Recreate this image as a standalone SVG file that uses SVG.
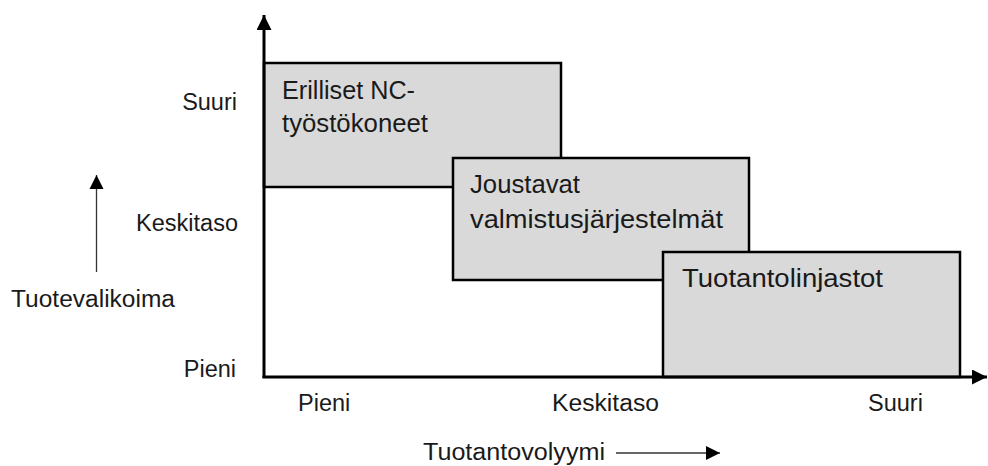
<svg xmlns="http://www.w3.org/2000/svg" width="988" height="466" viewBox="0 0 988 466">
<style>
.box{fill:#d9d9d9;stroke:#000;stroke-width:2.5}
.bt{font-family:"Liberation Sans",Arial,sans-serif;font-size:26px;fill:#1a1a1a}
.at{font-family:"Liberation Sans",Arial,sans-serif;font-size:23.5px;fill:#1a1a1a}
.axis{stroke:#000;stroke-width:3;fill:none}
.thin{stroke:#333;stroke-width:1.3;fill:none}
</style>
<defs>
<marker id="ah" viewBox="0 0 10 10" refX="10" refY="5" markerWidth="5" markerHeight="5" markerUnits="strokeWidth" orient="auto">
<path d="M0,0 L10,5 L0,10 z" fill="#000"/>
</marker>
<marker id="ahs" viewBox="0 0 10 10" refX="10" refY="5" markerWidth="11" markerHeight="11" markerUnits="strokeWidth" orient="auto">
<path d="M0,0 L10,5 L0,10 z" fill="#000"/>
</marker>
</defs>
<g id="node-nc">
<rect class="box" x="264" y="63" width="297" height="124"/>
<text class="bt" x="282" y="99" textLength="133" lengthAdjust="spacingAndGlyphs">Erilliset NC-</text>
<text class="bt" x="282" y="132" textLength="146" lengthAdjust="spacingAndGlyphs">työstökoneet</text>
</g>
<g id="node-fms">
<rect class="box" x="453" y="158" width="296" height="122"/>
<text class="bt" x="470" y="193" textLength="110" lengthAdjust="spacingAndGlyphs">Joustavat</text>
<text class="bt" x="470" y="228" textLength="253" lengthAdjust="spacingAndGlyphs">valmistusjärjestelmät</text>
</g>
<g id="node-lines">
<rect class="box" x="663" y="252" width="297" height="125"/>
<text class="bt" x="682" y="287" textLength="201" lengthAdjust="spacingAndGlyphs">Tuotantolinjastot</text>
</g>
<g id="labels">
<text class="at" x="237" y="110" text-anchor="end">Suuri</text>
<text class="at" x="238" y="231" text-anchor="end">Keskitaso</text>
<text class="at" x="236" y="377" text-anchor="end">Pieni</text>
<text class="at" x="11" y="307" textLength="164" lengthAdjust="spacingAndGlyphs">Tuotevalikoima</text>
<text class="at" x="298" y="411">Pieni</text>
<text class="at" x="552" y="411" textLength="107" lengthAdjust="spacingAndGlyphs">Keskitaso</text>
<text class="at" x="868" y="411">Suuri</text>
<text class="at" x="423" y="460" textLength="182" lengthAdjust="spacingAndGlyphs">Tuotantovolyymi</text>
</g>
<g id="connectors">
<line class="axis" x1="264" y1="378" x2="264" y2="15" marker-end="url(#ah)"/>
<line class="axis" x1="262.5" y1="377" x2="987" y2="377" marker-end="url(#ah)"/>
<line class="thin" x1="96.5" y1="272" x2="96.5" y2="175" marker-end="url(#ahs)"/>
<line class="thin" x1="616" y1="453" x2="720" y2="453" marker-end="url(#ahs)"/>
</g>
</svg>
